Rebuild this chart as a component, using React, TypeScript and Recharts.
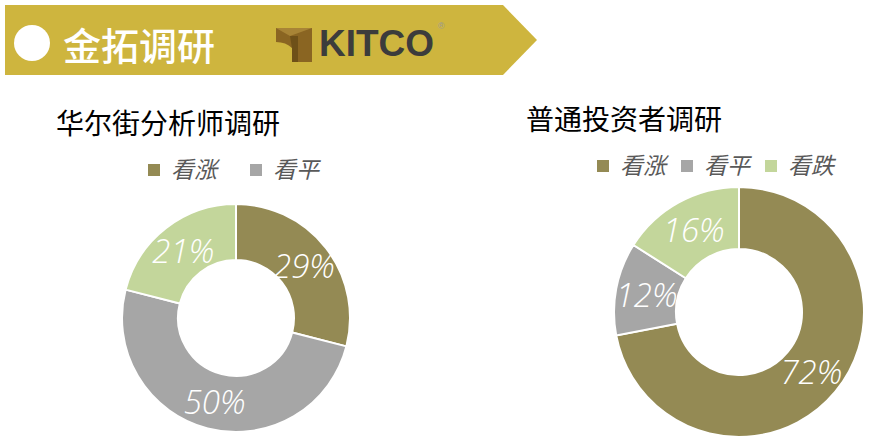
import { PieChart, Pie, Cell } from 'recharts';

const analystLabels = ['看涨', '看平', '看跌'];
const analystValues = [29, 50, 21];
const analystLegend = ['看涨', '看平'];
const investorLabels = ['看涨', '看平', '看跌'];
const investorValues = [72, 12, 16];
const investorLegend = ['看涨', '看平', '看跌'];
const sliceColors = ['#948A54', '#A6A6A6', '#C3D69B'];

const analystData = analystLabels.map((name, i) => ({ name, value: analystValues[i] }));
const investorData = investorLabels.map((name, i) => ({ name, value: investorValues[i] }));

const RAD = Math.PI / 180;
const CJK = '"Noto Sans CJK SC", "Noto Sans", sans-serif';

function renderLabel(p: any) {
  const r = (p.innerRadius + p.outerRadius) / 2;
  const x = p.cx + r * Math.cos(-p.midAngle * RAD);
  const y = p.cy + r * Math.sin(-p.midAngle * RAD);
  return (
    <text x={x} y={y} fill="#fff" textAnchor="middle" dominantBaseline="central"
      fontFamily='"Open Sans", sans-serif' fontStyle="italic" fontWeight={300} fontSize={33}>
      {p.value}%
    </text>
  );
}

function LegendRow({ items, x, y, gap }: { items: string[]; x: number; y: number; gap: number }) {
  return (
    <g>
      {items.map((name, i) => (
        <g key={name} transform={`translate(${x + i * gap},${y})`}>
          <rect x={0} y={-12} width={12} height={12} fill={sliceColors[i]} />
          <text x={23} y={2} fontFamily={CJK} fontSize={23} fontStyle="italic" fill="#595959">{name}</text>
        </g>
      ))}
    </g>
  );
}

export default function App() {
  return (
    <div style={{ position: 'absolute', left: 0, top: 0, width: 875, height: 444, background: '#fff' }}>
      <PieChart width={875} height={444} margin={{ top: 0, right: 0, bottom: 0, left: 0 }}
        style={{ position: 'absolute', left: 0, top: 0 }}>
        <Pie data={analystData} dataKey="value" cx={236} cy={318} innerRadius={58} outerRadius={114}
          startAngle={90} endAngle={-270} stroke="#fff" strokeWidth={2}
          label={renderLabel} labelLine={false} isAnimationActive={false}>
          {analystData.map((d, i) => <Cell key={d.name} fill={sliceColors[i]} />)}
        </Pie>
        <Pie data={investorData} dataKey="value" cx={739} cy={312} innerRadius={63} outerRadius={125}
          startAngle={90} endAngle={-270} stroke="#fff" strokeWidth={2}
          label={renderLabel} labelLine={false} isAnimationActive={false}>
          {investorData.map((d, i) => <Cell key={d.name} fill={sliceColors[i]} />)}
        </Pie>
      </PieChart>

      <svg width={875} height={444} style={{ position: 'absolute', left: 0, top: 0, pointerEvents: 'none' }}>
        {/* header band */}
        <polygon points="5,5 503,5 537,40 503,75 5,75" fill="#CEB53E" />
        <circle cx={32} cy={43} r={18} fill="#fff" />
        <text x={63} y={60} fontFamily={CJK} fontSize={38} fontWeight={500} fill="#fff">金拓调研</text>

        {/* KITCO logo */}
        <g>
          <path d="M276,28 L312,28 L312,62 L292,62 L292,48 Q286,42 276,42 Z" fill="#8A6522" />
          <path d="M276,28 L290,36 L312,28 Z" fill="#A88436" />
          <path d="M290,36 L298,36 L298,62 L292,62 L292,48 Z" fill="#6E5018" />
          <text x={319} y={56} fontFamily='"Liberation Sans", Arial, sans-serif' fontWeight={700} fontSize={37}
            fill="#3C3C3C">KITCO</text>
          <text x={438} y={29} fontFamily='"Liberation Sans", Arial, sans-serif' fontSize={9} fill="#999">®</text>
        </g>

        {/* titles */}
        <text x={56} y={134} fontFamily={CJK} fontSize={28} fill="#000">华尔街分析师调研</text>
        <text x={526} y={130} fontFamily={CJK} fontSize={28} fill="#000">普通投资者调研</text>

        <LegendRow items={analystLegend} x={148} y={176} gap={102} />
        <LegendRow items={investorLegend} x={597} y={172} gap={84} />
      </svg>
    </div>
  );
}
